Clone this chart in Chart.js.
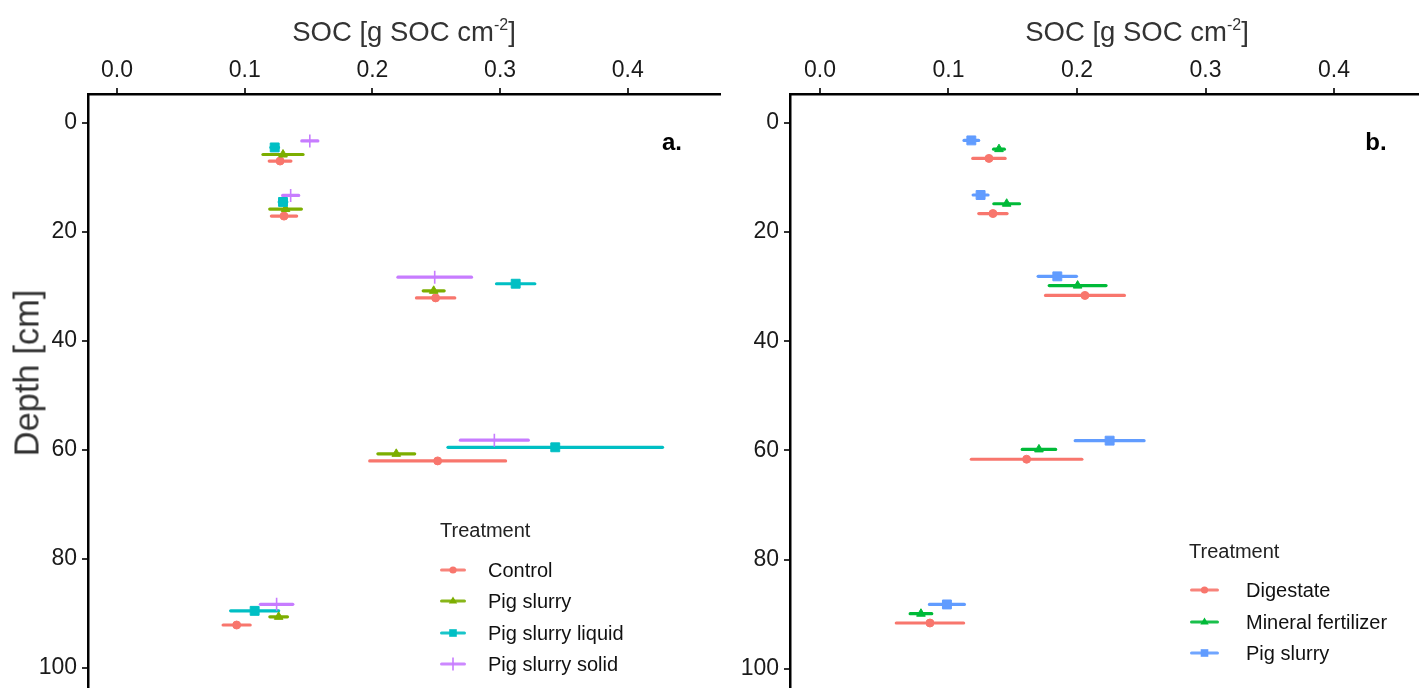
<!DOCTYPE html>
<html>
<head>
<title>SOC depth profiles</title>
<script src="https://cdn.jsdelivr.net/npm/chart.js@4.4.1/dist/chart.umd.min.js"></script>
<style>
    body { margin: 0; width: 1419px; height: 688px; overflow: hidden; background: #fff; position: relative;
           font-family: "Liberation Sans", Arial, sans-serif; }
    canvas { position: absolute; top: 0; }
    .xtitle { position: absolute; top: 16px; font-size: 27.5px; color: #333; white-space: nowrap; transform: translateX(-50%); }
    .xtitle sup { font-size: 16px; vertical-align: 11px; line-height: 0; }
    .ytitle { position: absolute; left: 27px; top: 373px; font-size: 34.5px; color: #333; white-space: nowrap;
              transform: translate(-50%, -50%) rotate(-90deg); }
    .tag { position: absolute; font-weight: bold; font-size: 24px; color: #000; transform: translate(-50%, -50%); }
    .legend-head { position: absolute; font-size: 20px; color: #222; transform: translateY(-50%); }
    .legend-row { position: absolute; font-size: 20px; color: #111; transform: translateY(-50%); white-space: nowrap; }
    .legend-sym { position: absolute; transform: translateY(-50%); }
</style>
</head>
<body>
<canvas id="chartA" width="730" height="698" style="left:0px"></canvas>
<canvas id="chartB" width="800" height="698" style="left:700px"></canvas>

<div class="xtitle" style="left:404px">SOC [g SOC cm<sup>-2</sup>]</div>
<div class="xtitle" style="left:1137px">SOC [g SOC cm<sup>-2</sup>]</div>
<div class="ytitle">Depth [cm]</div>
<div class="tag" style="left:672px; top:142px">a.</div>
<div class="tag" style="left:1376px; top:142px">b.</div>

<script>
// ---- data ----
const xTicks = [0, 0.1, 0.2, 0.3, 0.4];
const depthTicks = [0, 20, 40, 60, 80, 100];

// panel a
const namesA = ['Control', 'Pig slurry', 'Pig slurry liquid', 'Pig slurry solid'];
const colorsA = ['#F8766D', '#7CAE00', '#00BFC4', '#C77CFF'];
const shapesA = ['circle', 'triangle', 'rect', 'cross'];

const controlSOC   = [0.1277, 0.1308, 0.2495, 0.2511, 0.0937];
const controlDepth = [7.0, 17.1, 32.1, 62.0, 92.1];
const controlErr   = [0.0085, 0.0099, 0.0150, 0.0532, 0.0106];

const slurrySOC   = [0.1300, 0.1320, 0.2480, 0.2187, 0.1266];
const slurryDepth = [5.8, 15.8, 30.8, 60.7, 90.6];
const slurryErr   = [0.0157, 0.0124, 0.0082, 0.0144, 0.0069];

const liquidSOC   = [0.1235, 0.1300, 0.3122, 0.3432, 0.1078];
const liquidDepth = [4.5, 14.5, 29.5, 59.5, 89.5];
const liquidErr   = [0.0030, 0.0030, 0.0150, 0.0840, 0.0188];

const solidSOC   = [0.1510, 0.1360, 0.2488, 0.2955, 0.1250];
const solidDepth = [3.3, 13.3, 28.3, 58.2, 88.3];
const solidErr   = [0.0063, 0.0063, 0.0288, 0.0266, 0.0127];

// panel b
const namesB = ['Digestate', 'Mineral fertilizer', 'Pig slurry'];
const colorsB = ['#F8766D', '#00BA38', '#619CFF'];
const shapesB = ['circle', 'triangle', 'rect'];

const digestateSOC   = [0.1315, 0.1346, 0.2062, 0.1608, 0.0856];
const digestateDepth = [6.5, 16.6, 31.6, 61.6, 91.6];
const digestateErr   = [0.0126, 0.0110, 0.0307, 0.0430, 0.0262];

const mineralSOC   = [0.1393, 0.1453, 0.2005, 0.1704, 0.0786];
const mineralDepth = [4.8, 14.8, 29.8, 59.8, 89.9];
const mineralErr   = [0.0042, 0.0100, 0.0221, 0.0130, 0.0084];

const pigSOC   = [0.1178, 0.1250, 0.1847, 0.2254, 0.0988];
const pigDepth = [3.2, 13.2, 28.1, 58.2, 88.2];
const pigErr   = [0.0057, 0.0058, 0.0149, 0.0268, 0.0136];

// ---- building the datasets ----
const pointRadius = { circle: 4, triangle: 5, rect: 6.3, cross: 6.5 };

// one short line dataset per error bar, drawn under the points
function errorBars(xs, ds, es, color) {
    return xs.map((x, i) => ({
        data: [{ x: x - es[i], y: ds[i] }, { x: x + es[i], y: ds[i] }],
        showLine: true,
        borderColor: color,
        borderWidth: 3.2,
        borderCapStyle: 'round',
        pointRadius: 0,
        order: 10
    }));
}

function points(xs, ds, color, shape, order) {
    return {
        data: xs.map((x, i) => ({ x: x, y: ds[i] })),
        showLine: false,
        pointStyle: shape,
        pointRadius: pointRadius[shape],
        backgroundColor: color,
        borderColor: color,
        borderWidth: shape === 'cross' ? 1.6 : 1,
        order: order
    };
}

function buildDatasets(series, colors, shapes) {
    let sets = [];
    series.forEach((s, i) => { sets = sets.concat(errorBars(s[0], s[1], s[2], colors[i])); });
    series.forEach((s, i) => { sets.push(points(s[0], s[1], colors[i], shapes[i], series.length - i)); });
    return sets;
}

function makeOptions(xMin, xMax, yAxisWidth) {
    const tickFont = { family: 'Liberation Sans', size: 23 };
    return {
        responsive: false,
        animation: false,
        events: [],
        layout: { padding: { top: 0, left: 0, bottom: 0, right: 10 } },
        plugins: { legend: { display: false }, tooltip: { enabled: false }, title: { display: false } },
        scales: {
            x: {
                type: 'linear', position: 'top', min: xMin, max: xMax,
                afterBuildTicks: s => { s.ticks = xTicks.map(v => ({ value: v })); },
                afterFit: s => { s.height = 94; s.paddingLeft = 0; s.paddingRight = 0; },
                ticks: { font: tickFont, color: '#1a1a1a', padding: 4, callback: v => v.toFixed(1) },
                grid: { drawOnChartArea: false, drawTicks: true, tickLength: 6, color: '#333', lineWidth: 2 },
                border: { display: true, color: '#000', width: 2.5 }
            },
            y: {
                type: 'linear', reverse: true, min: -5.3, max: 104,
                afterBuildTicks: s => { s.ticks = depthTicks.map(v => ({ value: v })); },
                afterFit: s => { s.width = yAxisWidth; s.paddingTop = 0; s.paddingBottom = 0; },
                ticks: { font: tickFont, color: '#1a1a1a', padding: 5, callback: v => String(v) },
                grid: { drawOnChartArea: false, drawTicks: true, tickLength: 6, color: '#333', lineWidth: 2 },
                border: { display: true, color: '#000', width: 2.5 }
            }
        }
    };
}

const optsA = makeOptions(-0.0227, 0.4722, 88);
new Chart(document.getElementById('chartA'), {
    type: 'scatter',
    data: { datasets: buildDatasets([
        [controlSOC, controlDepth, controlErr],
        [slurrySOC, slurryDepth, slurryErr],
        [liquidSOC, liquidDepth, liquidErr],
        [solidSOC, solidDepth, solidErr]
    ], colorsA, shapesA) },
    options: optsA
});

const optsB = makeOptions(-0.0233, 0.5167, 90);
optsB.layout.padding.right = 16;
new Chart(document.getElementById('chartB'), {
    type: 'scatter',
    data: { datasets: buildDatasets([
        [digestateSOC, digestateDepth, digestateErr],
        [mineralSOC, mineralDepth, mineralErr],
        [pigSOC, pigDepth, pigErr]
    ], colorsB, shapesB) },
    options: optsB
});

// ---- legends (html, inside the plot areas) ----
function symbolSVG(color, shape, w) {
    const c = w / 2;
    let mark = '';
    if (shape === 'circle') mark = `<circle cx="${c}" cy="7" r="3.6" fill="${color}"/>`;
    if (shape === 'triangle') mark = `<polygon points="${c},2.5 ${c + 4.2},9.5 ${c - 4.2},9.5" fill="${color}"/>`;
    if (shape === 'rect') mark = `<rect x="${c - 3.8}" y="3.2" width="7.6" height="7.6" fill="${color}"/>`;
    if (shape === 'cross') mark = `<line x1="${c}" y1="0.5" x2="${c}" y2="13.5" stroke="${color}" stroke-width="1.6"/>`;
    return `<svg width="${w}" height="14" style="display:block">` +
           `<line x1="1.5" y1="7" x2="${w - 1.5}" y2="7" stroke="${color}" stroke-width="3" stroke-linecap="round" opacity="0.9"/>` +
           mark + `</svg>`;
}

function buildLegend(names, colors, shapes, o) {
    let html = `<div class="legend-head" style="left:${o.left}px; top:${o.headY}px">Treatment</div>`;
    names.forEach((n, i) => {
        const y = o.rowY + i * o.rowGap;
        html += `<div class="legend-sym" style="left:${o.symX}px; top:${y}px">${symbolSVG(colors[i], shapes[i], o.symW)}</div>`;
        html += `<div class="legend-row" style="left:${o.textX}px; top:${y}px">${n}</div>`;
    });
    document.body.insertAdjacentHTML('beforeend', html);
}

buildLegend(namesA, colorsA, shapesA, { left: 440, headY: 530, rowY: 570, rowGap: 31.3, symX: 440, symW: 26, textX: 488 });
buildLegend(namesB, colorsB, shapesB, { left: 1189, headY: 551, rowY: 590, rowGap: 31.6, symX: 1190, symW: 29, textX: 1246 });
</script>
</body>
</html>
